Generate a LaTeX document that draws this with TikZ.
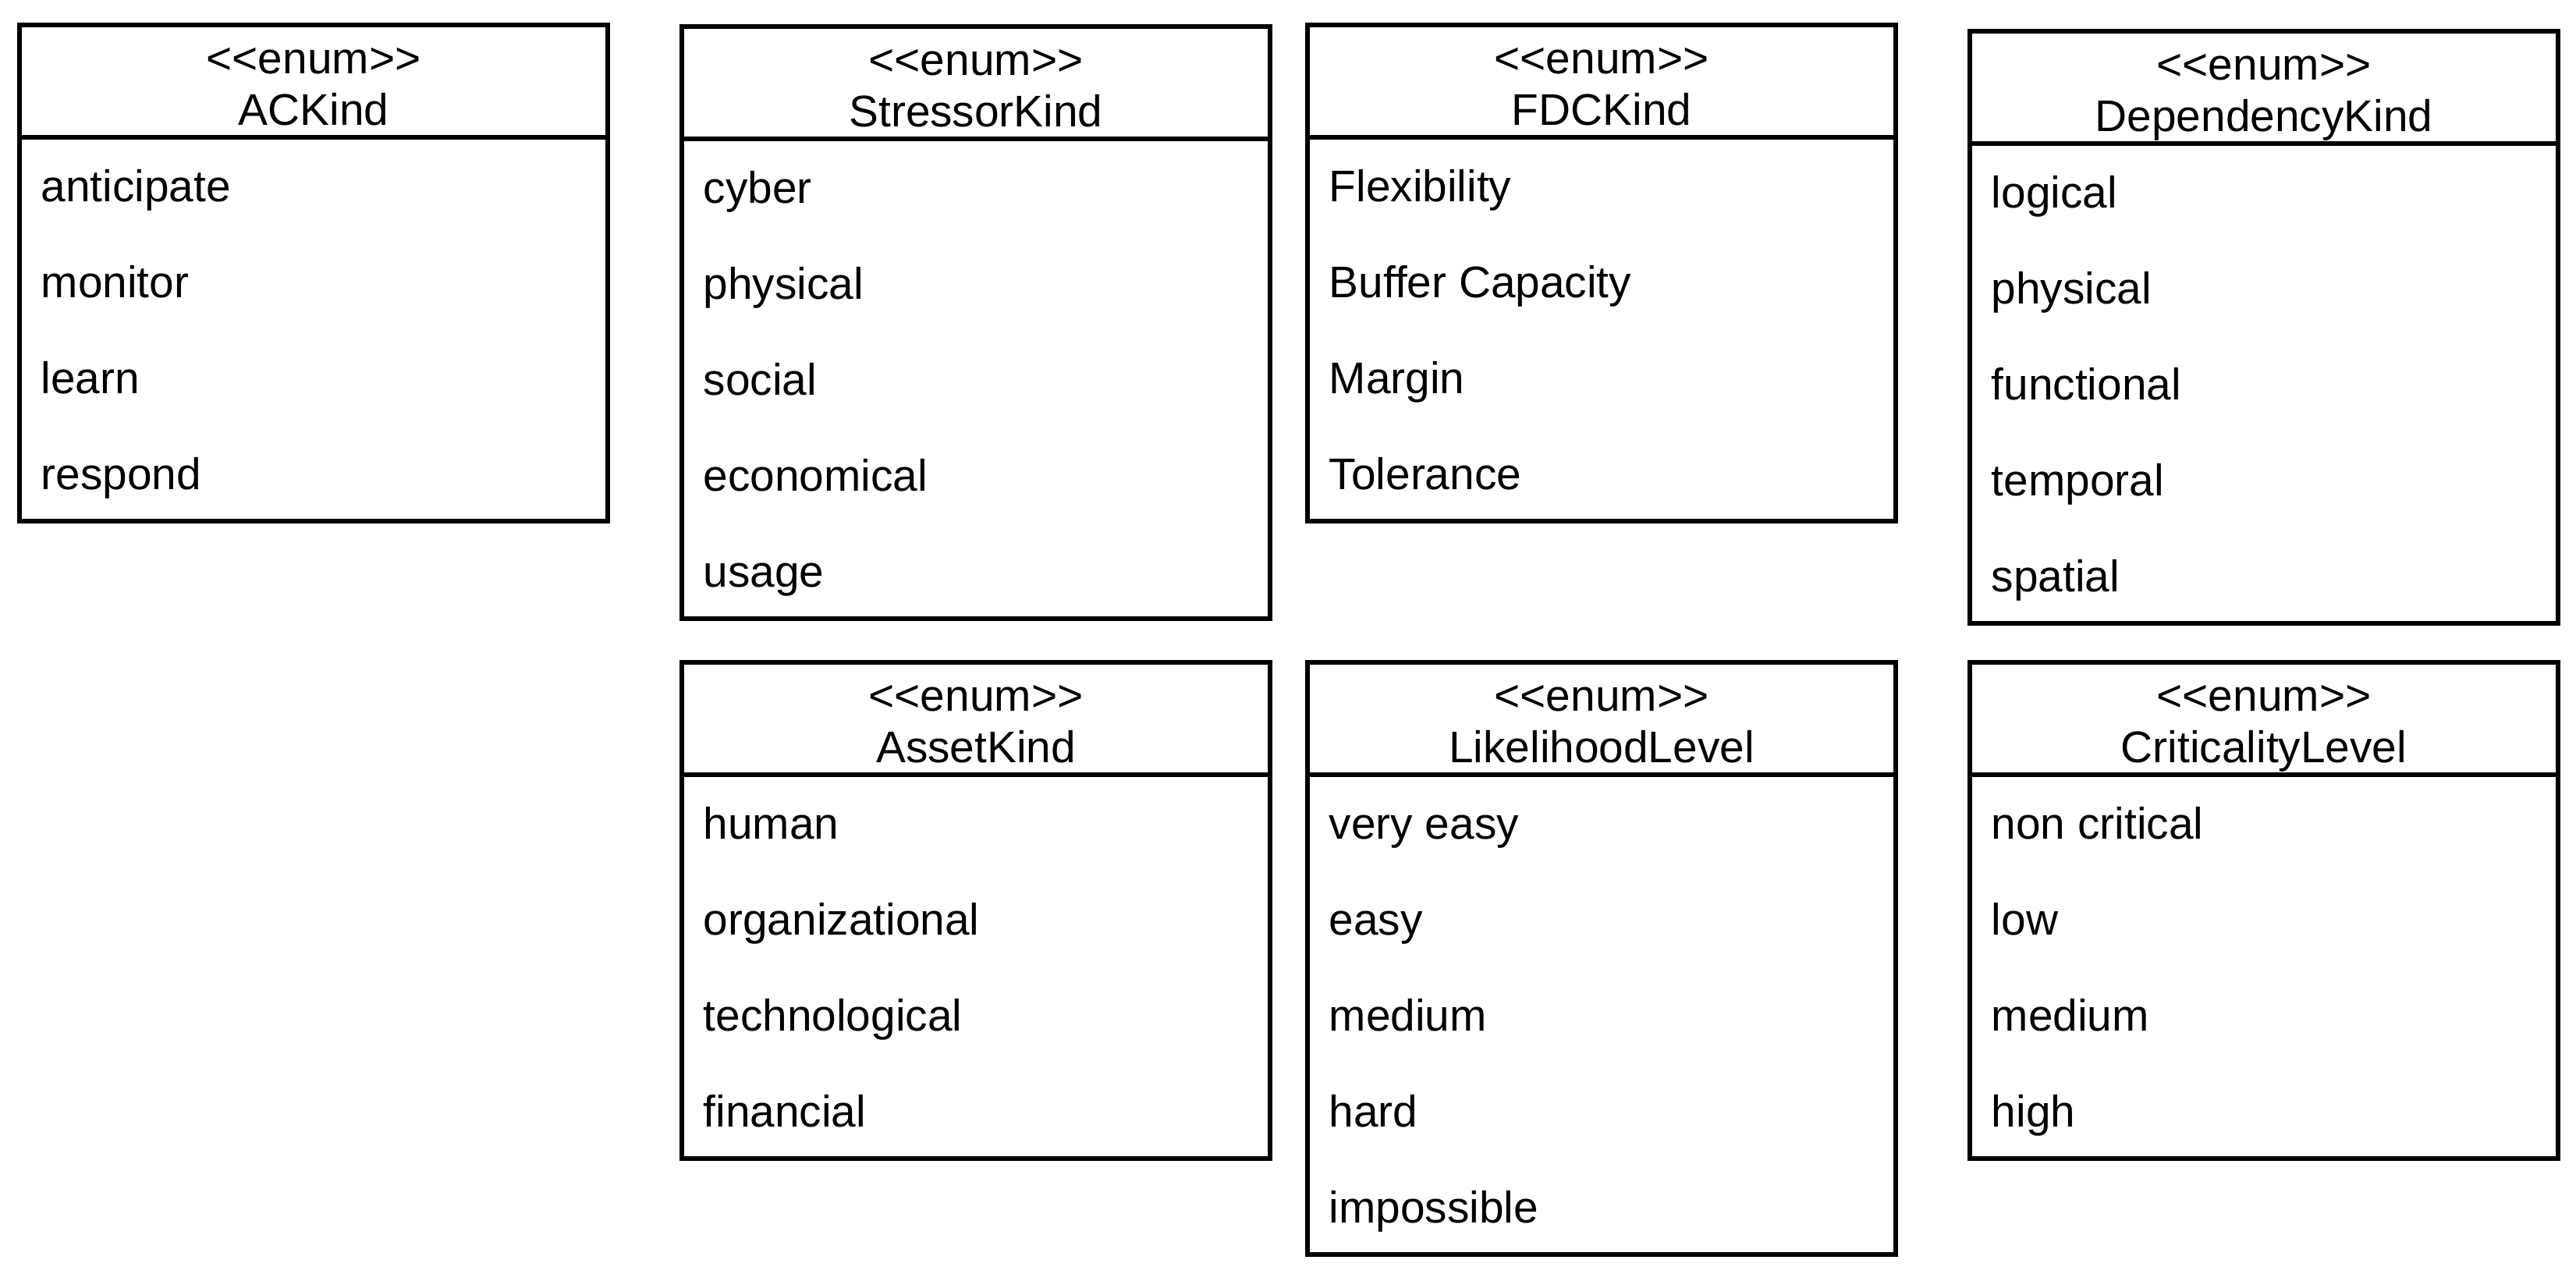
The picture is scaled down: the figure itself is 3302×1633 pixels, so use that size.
\documentclass[tikz,border=0pt]{standalone}
\usepackage{fontspec}
\setmainfont{Liberation Sans}
\tikzset{
  enumframe/.style={draw, line width=1.5pt, rectangle, inner sep=0pt, outer sep=0pt,
    minimum width=188.5pt, anchor=north west},
  enumtext/.style={inner sep=0pt, font=\fontsize{14.2pt}{17pt}\selectfont},
  divider/.style={line width=1.5pt},
}
\newcommand\enumbox[6]{%
  \pgfmathsetmacro\ebh{(144+123*#5)*0.25}%
  \pgfmathsetmacro\ecx{#2+377}%
  \node[enumframe, minimum height=\ebh pt] (#1) at (#2,#3) {};
  \node[enumtext, anchor=base] (#1-st) at (\ecx,{#3+63}) {<\kern0pt<enum>\kern0pt>};
  \node[enumtext, anchor=base] (#1-title) at (\ecx,{#3+129}) {#4};
  \draw[divider] ([yshift=-36pt]#1.north west) -- ([yshift=-36pt]#1.north east);
  \foreach \t [count=\i from 0] in {#6} {
    \node[enumtext, anchor=base west] (#1-\i) at ({#2+27},{#3+144+123*\i+83}) {\t};
  }
}
\begin{document}
\begin{tikzpicture}[x=0.25pt, y=-0.25pt]
\useasboundingbox (0,0) rectangle (3302,1633);
\enumbox{ac}{25}{32}{ACKind}{4}{anticipate,monitor,learn,respond}
\enumbox{stressor}{874}{34}{StressorKind}{5}{cyber,physical,social,economical,usage}
\enumbox{fdc}{1676}{32}{FDCKind}{4}{Flexibility,Buffer Capacity,Margin,Tolerance}
\enumbox{dep}{2525}{40}{DependencyKind}{5}{logical,physical,functional,temporal,spatial}
\enumbox{asset}{874}{849}{AssetKind}{4}{human,organizational,technological,financial}
\enumbox{like}{1676}{849}{LikelihoodLevel}{5}{very easy,easy,medium,hard,impossible}
\enumbox{crit}{2525}{849}{CriticalityLevel}{4}{non critical,low,medium,high}
\end{tikzpicture}
\end{document}
